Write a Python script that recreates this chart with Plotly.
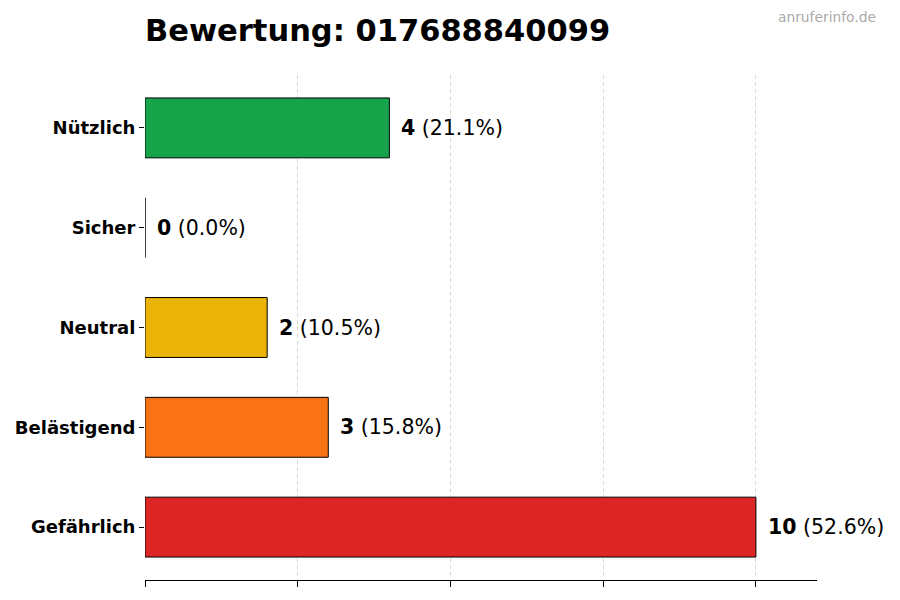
import plotly.graph_objects as go

# Data (top to bottom as shown)
categories = ['Nützlich', 'Sicher', 'Neutral', 'Belästigend', 'Gefährlich']
counts = [4, 0, 2, 3, 10]
colors = ['#16a34a', '#9ca3af', '#eab308', '#f97316', '#dc2626']
phone = '017688840099'

total = sum(counts)

# page has an 8px body margin, so shift everything up/left by that
W, H = 900, 600
L, R, T, B = 137, 91, 67, 28

fig = go.Figure()
fig.add_trace(go.Bar(
    x=counts, y=categories, orientation='h',
    width=0.6,
    marker=dict(color=colors, line=dict(color='black', width=1)),
    hoverinfo='skip',
))

# Value labels next to bars
for cat, n in zip(categories, counts):
    pct = 100 * n / total
    fig.add_annotation(
        x=n, y=cat, xref='x', yref='y',
        text='<b>%d</b> (%.1f%%)' % (n, pct),
        showarrow=False, xanchor='left', yanchor='middle', xshift=10,
        font=dict(family='DejaVu Sans', size=20.5, color='black'),
    )

# Watermark
fig.add_annotation(
    x=(870 - L) / (W - L - R), y=1 + (T - 9) / (H - T - B),
    xref='paper', yref='paper', text='anruferinfo.de',
    showarrow=False, xanchor='right', yanchor='middle',
    font=dict(family='DejaVu Sans', size=13.8, color='#aaaaaa'),
)

fig.update_layout(
    width=W, height=H,
    margin=dict(l=L, r=R, t=T, b=B),
    paper_bgcolor='white', plot_bgcolor='white',
    showlegend=False,
    font=dict(family='DejaVu Sans', color='black'),
    title=dict(
        text='<b>Bewertung: %s</b>' % phone,
        x=L / W, xanchor='left', y=1 - 22 / H, yanchor='middle',
        font=dict(family='DejaVu Sans', size=30.5, color='black'),
    ),
    xaxis=dict(
        range=[0, 11], tickvals=[0, 2.5, 5, 7.5, 10], showticklabels=False,
        ticks='outside', ticklen=6, tickcolor='black', tickwidth=1,
        showline=True, linecolor='black', linewidth=1,
        showgrid=True, gridcolor='rgba(0,0,0,0.15)', griddash='4px,3px', gridwidth=1,
        zeroline=False, layer='above traces', fixedrange=True, automargin=False,
    ),
    yaxis=dict(
        categoryorder='array', categoryarray=categories[::-1],
        range=[-0.53, 4.53],
        ticks='outside', ticklen=5, tickcolor='black', tickwidth=1,
        showline=False, showgrid=False, zeroline=False,
        tickfont=dict(family='DejaVu Sans', size=18, color='black', weight='bold'),
        fixedrange=True, automargin=False,
    ),
)

fig.write_html('out.html')
